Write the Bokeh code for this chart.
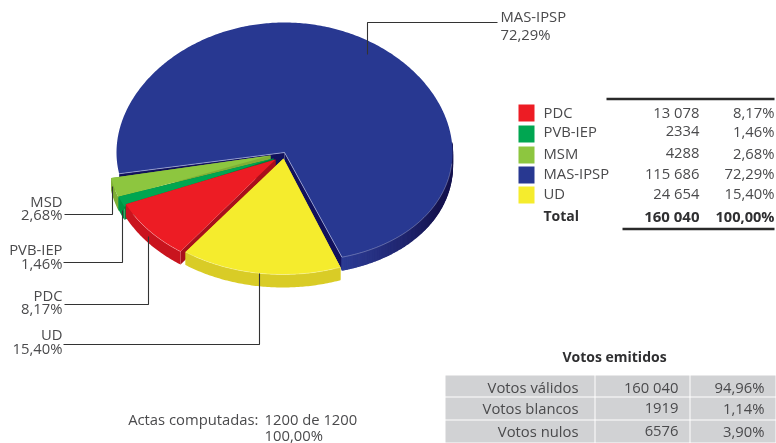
import math
from bokeh.plotting import figure
from bokeh.models import Range1d
from bokeh.core.properties import value
from bokeh.embed import file_html
from bokeh.resources import INLINE

# ---- data ----
parties = ["UD", "PDC", "PVB-IEP", "MSM", "MAS-IPSP"]
votes = [24654, 13078, 2334, 4288, 115686]
shares = ["15,40%", "8,17%", "1,46%", "2,68%", "72,29%"]
top_colors = ["#f5ec2d", "#ed1c24", "#00a651", "#8dc63f", "#283891"]
side_colors = ["#d9cc26", "#c9141e", "#009444", "#7fae36", "#283891"]
wall_colors = ["#d9cc26", "#a80f1b", "#00823c", "#7fae36", "#11115c"]

table_names = ["PDC", "PVB-IEP", "MSM", "MAS-IPSP", "UD"]
table_votes = ["13 078", "2334", "4288", "115 686", "24 654"]
table_pcts = ["8,17%", "1,46%", "2,68%", "72,29%", "15,40%"]
table_colors = ["#ed1c24", "#00a651", "#8dc63f", "#283891", "#f5ec2d"]
total_row = ["Total", "160 040", "100,00%"]

emit_names = ["Votos válidos", "Votos blancos", "Votos nulos"]
emit_votes = ["160 040", "1919", "6576"]
emit_pcts = ["94,96%", "1,14%", "3,90%"]

# ---- layout ----
W, H = 776, 443
FONT = value("Open Sans")
INK = "#4a4a4c"
SIZE = "14.8px"
CX, CY, RX, RY = 284, 143, 168, 121
START = 160.0
DEPTH = 13
BULGE = 9
apex = {"UD": (283, 158), "PDC": (275, 159), "PVB-IEP": (273, 158), "MSM": (270, 155), "MAS-IPSP": (284, 152)}
shift = {"UD": (-1.5, 10), "PDC": (-6.5, 9.5), "PVB-IEP": (-8, 12), "MSM": (-8, 13), "MAS-IPSP": (0, 0)}

p = figure(width=W, height=H, output_backend="svg", toolbar_location=None,
           x_range=Range1d(0, W), y_range=Range1d(H, 0), min_border=0,
           background_fill_color="white", border_fill_color="white")
p.axis.visible = False
p.grid.visible = False
p.outline_line_color = None
p.styles = {"position": "fixed", "left": "0px", "top": "0px"}


def bulge(theta):
    d = theta % 360
    if d <= 90 or d >= 270:
        return BULGE * math.sin(math.radians(d)) ** 2
    if d <= 160:
        return BULGE * math.cos(math.radians((d - 90) / 70 * 90))
    if d >= 200:
        return BULGE * math.cos(math.radians((270 - d) / 70 * 90))
    return 0


def rim(theta, name):
    t = math.radians(theta)
    sx, sy = shift[name]
    extra = bulge(theta) if name == "MAS-IPSP" else 0
    return CX + RX * math.sin(t) + sx, CY - RY * math.cos(t) + sy + extra


def mix(a, b, f):
    ca = [int(a[i:i + 2], 16) for i in (1, 3, 5)]
    cb = [int(b[i:i + 2], 16) for i in (1, 3, 5)]
    return "#%02x%02x%02x" % tuple(round(x + (y - x) * f) for x, y in zip(ca, cb))


total = sum(votes)
spans = {}
th = START
for name, v in zip(parties, votes):
    spans[name] = (th, th + v / total * 360)
    th += v / total * 360

# Biggest slice goes first, the others sit on top of it
for i in [4, 3, 2, 1, 0]:
    name = parties[i]
    a0, a1 = spans[name]
    n = max(int((a1 - a0) * 1.5), 3)
    angles = [a0 + (a1 - a0) * k / n for k in range(n + 1)]
    pts = [rim(a, name) for a in angles]
    ax, ay = apex[name]
    # radial walls
    for a in (a0, a1):
        rx, ry = rim(a, name)
        p.patch([ax, rx, rx, ax], [ay, ry, ry + DEPTH, ay + DEPTH], color=wall_colors[i], line_width=0)
    # outer wall, facing the viewer only
    if name == "MAS-IPSP":
        # drawn from the dark end to the light end so each band overlaps the last
        bands = [k for k in range(n) if 85 < (angles[k] + angles[k + 1]) / 2 % 360 < 180]
        bands.sort(key=lambda k: (angles[k] % 360))
        for k in bands:
            (x0, y0), (x1, y1) = pts[k], pts[min(k + 1, n)]
            mid = (angles[k] + angles[k + 1]) / 2 % 360
            col = mix("#15134f", "#2c3b94", min(max((mid - 115) / 45, 0), 1))
            p.patch([x0, x1, x1, x0], [y0, y1, y1 + DEPTH, y0 + DEPTH], color=col, line_color=col, line_width=1.2)
    else:
        xs = [q[0] for q in pts]
        ys = [q[1] for q in pts]
        p.patch(xs + xs[::-1], ys + [y + DEPTH for y in ys[::-1]], color=side_colors[i], line_width=0)
    # top face
    p.patch([ax] + [q[0] for q in pts], [ay] + [q[1] for q in pts], color=top_colors[i], line_width=0)
    # pale rim highlight on the front edge
    front = [q for q, a in zip(pts, angles) if 95 < a % 360 < 240]
    if len(front) > 1:
        p.line([q[0] for q in front], [q[1] for q in front], line_color="white", line_alpha=0.4, line_width=0.7)

# highlight along the blue cut edges
for a in spans["MAS-IPSP"]:
    x, y = rim(a, "MAS-IPSP")
    ax, ay = apex["MAS-IPSP"]
    p.line([ax, x], [ay, y], line_color="#aeb4dc", line_width=0.7)

# ---- leader lines ----
leaders = [
    ([367, 367, 497], [54, 22, 22]),
    ([112, 112, 64], [186, 214, 214]),
    ([122, 122, 63], [210, 262, 262]),
    ([148, 148, 64], [236, 304, 304]),
    ([259, 259, 63], [273, 344, 344]),
]
for lx, ly_ in leaders:
    p.line(lx, ly_, line_color="#333333", line_width=1.1)


def label(x, y, text, align="left", bold=False, size=SIZE):
    p.text([x], [y], text=[text], text_font=FONT, text_font_size=size,
           text_color="#2f2f31" if bold else INK,
           text_align=align, text_baseline="middle", text_font_style="bold" if bold else "normal")


# ---- slice labels ----
ly = {"MSM": (200, 213), "PVB-IEP": (248, 262), "PDC": (294, 307), "UD": (333, 347)}
shown = {"MSM": "MSD"}
for name, (y1, y2) in ly.items():
    label(62, y1, shown.get(name, name), "right")
    label(62, y2, shares[parties.index(name)], "right")
label(500, 15, parties[4])
label(500, 33, shares[4])

# ---- results table ----
row_y = [111, 130, 152, 172, 192]
sw_top = [104, 125, 146, 166, 186]
p.quad(left=[518] * 5, right=[534] * 5, top=sw_top, bottom=[t + 17 for t in sw_top], color=table_colors, line_width=0)
for y, n, v, c in zip(row_y, table_names, table_votes, table_pcts):
    label(543, y, n)
    label(699, y, v, "right")
    label(774, y, c, "right")
label(543, 215, total_row[0], bold=True, size="14px")
label(699, 215, total_row[1], "right", True, size="15px")
label(774, 215, total_row[2], "right", True, size="14.6px")
p.line([606, 774], [98.5, 98.5], line_color="#2a2a2a", line_width=2.5)
p.line([622, 774], [228.5, 228.5], line_color="#2a2a2a", line_width=2.5)

# ---- votes cast table ----
label(614, 356, "Votos emitidos", "center", True, size="14px")
col_l, col_r = [445, 595, 690], [594, 689, 775]
row_t, row_b = [375, 397, 420], [396, 419, 442]
for t, b in zip(row_t, row_b):
    p.quad(left=col_l, right=col_r, top=[t] * 3, bottom=[b] * 3, color="#d1d2d4", line_width=0)
for y, n, v, c in zip([386, 407, 430], emit_names, emit_votes, emit_pcts):
    label(578, y, n, "right")
    label(678, y, v, "right")
    label(764, y, c, "right")

# ---- footer ----
label(258, 418, "Actas computadas:", "right")
label(264, 418, "1200 de 1200")
label(264, 434, "100,00%")

open("out.html", "w").write(file_html(p, INLINE))
